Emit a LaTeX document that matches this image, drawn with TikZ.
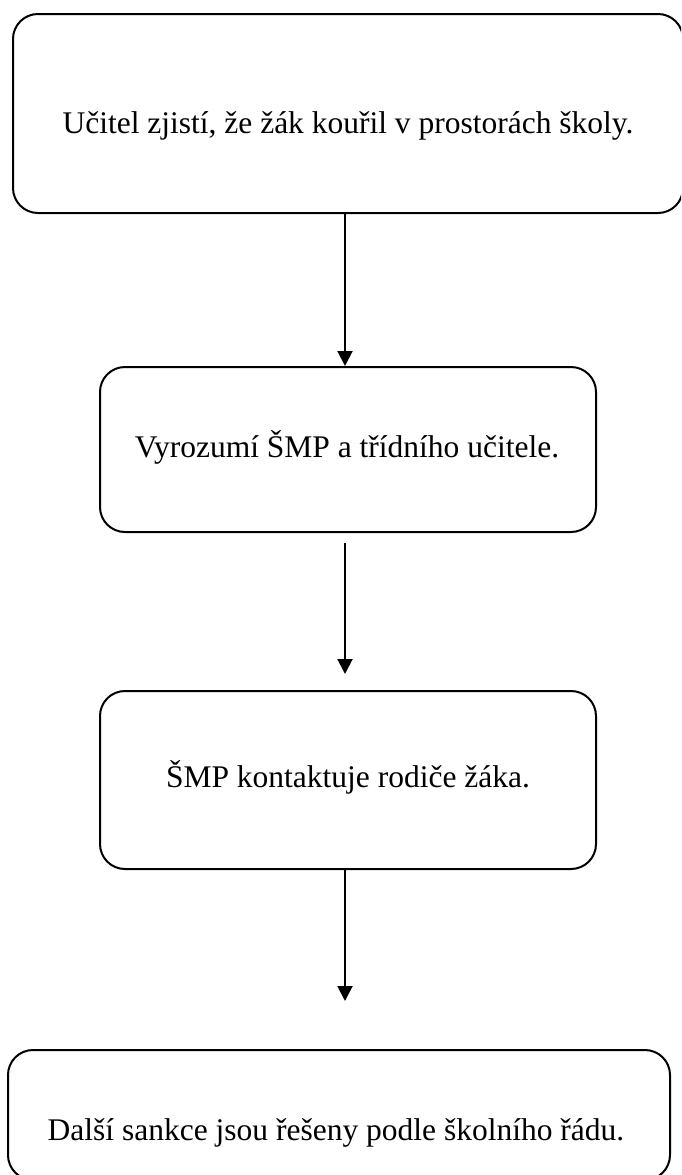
\documentclass[tikz,border=0pt]{standalone}
\usepackage{fontspec}
\setmainfont{Liberation Serif}
\usetikzlibrary{arrows.meta}
\begin{document}
\begin{tikzpicture}[x=1pt,y=-1pt,
  box/.style={draw=black,line width=2pt,rounded corners=25pt,rectangle,inner sep=0pt},
  txt/.style={anchor=base,inner sep=0pt,font=\fontsize{31.5}{36}\selectfont},
  arr/.style={draw=black,line width=2pt,-{Triangle[length=15pt,width=15pt]}}]
\useasboundingbox (0,0) rectangle (681,1175);
\clip (0,0) rectangle (681,1175);
\node[box,minimum width=670pt,minimum height=199pt] (b1) at (348,113.5) {};
\node[box,minimum width=496pt,minimum height=165pt] (b2) at (348,449.5) {};
\node[box,minimum width=496pt,minimum height=178pt] (b3) at (348,780) {};
\node[box,minimum width=662pt,minimum height=130pt] (b4) at (339,1115) {};
\node[txt] (t1) at (348,133) {Učitel zjistí, že žák kouřil v prostorách školy.};
\node[txt] (t2) at (347,457) {Vyrozumí ŠMP a třídního učitele.};
\node[txt] (t3) at (348,787) {ŠMP kontaktuje rodiče žáka.};
\node[txt] (t4) at (336,1140) {Další sankce jsou řešeny podle školního řádu.};
\coordinate (ax) at (345,0);
\coordinate (e1) at (345,366);
\coordinate (s2) at (345,543);
\coordinate (e2) at (345,674);
\coordinate (e3) at (345,1001);
\draw[arr] (b1.south -| ax) -- (e1);
\draw[arr] (s2) -- (e2);
\draw[arr] (b3.south -| ax) -- (e3);
\end{tikzpicture}
\end{document}
